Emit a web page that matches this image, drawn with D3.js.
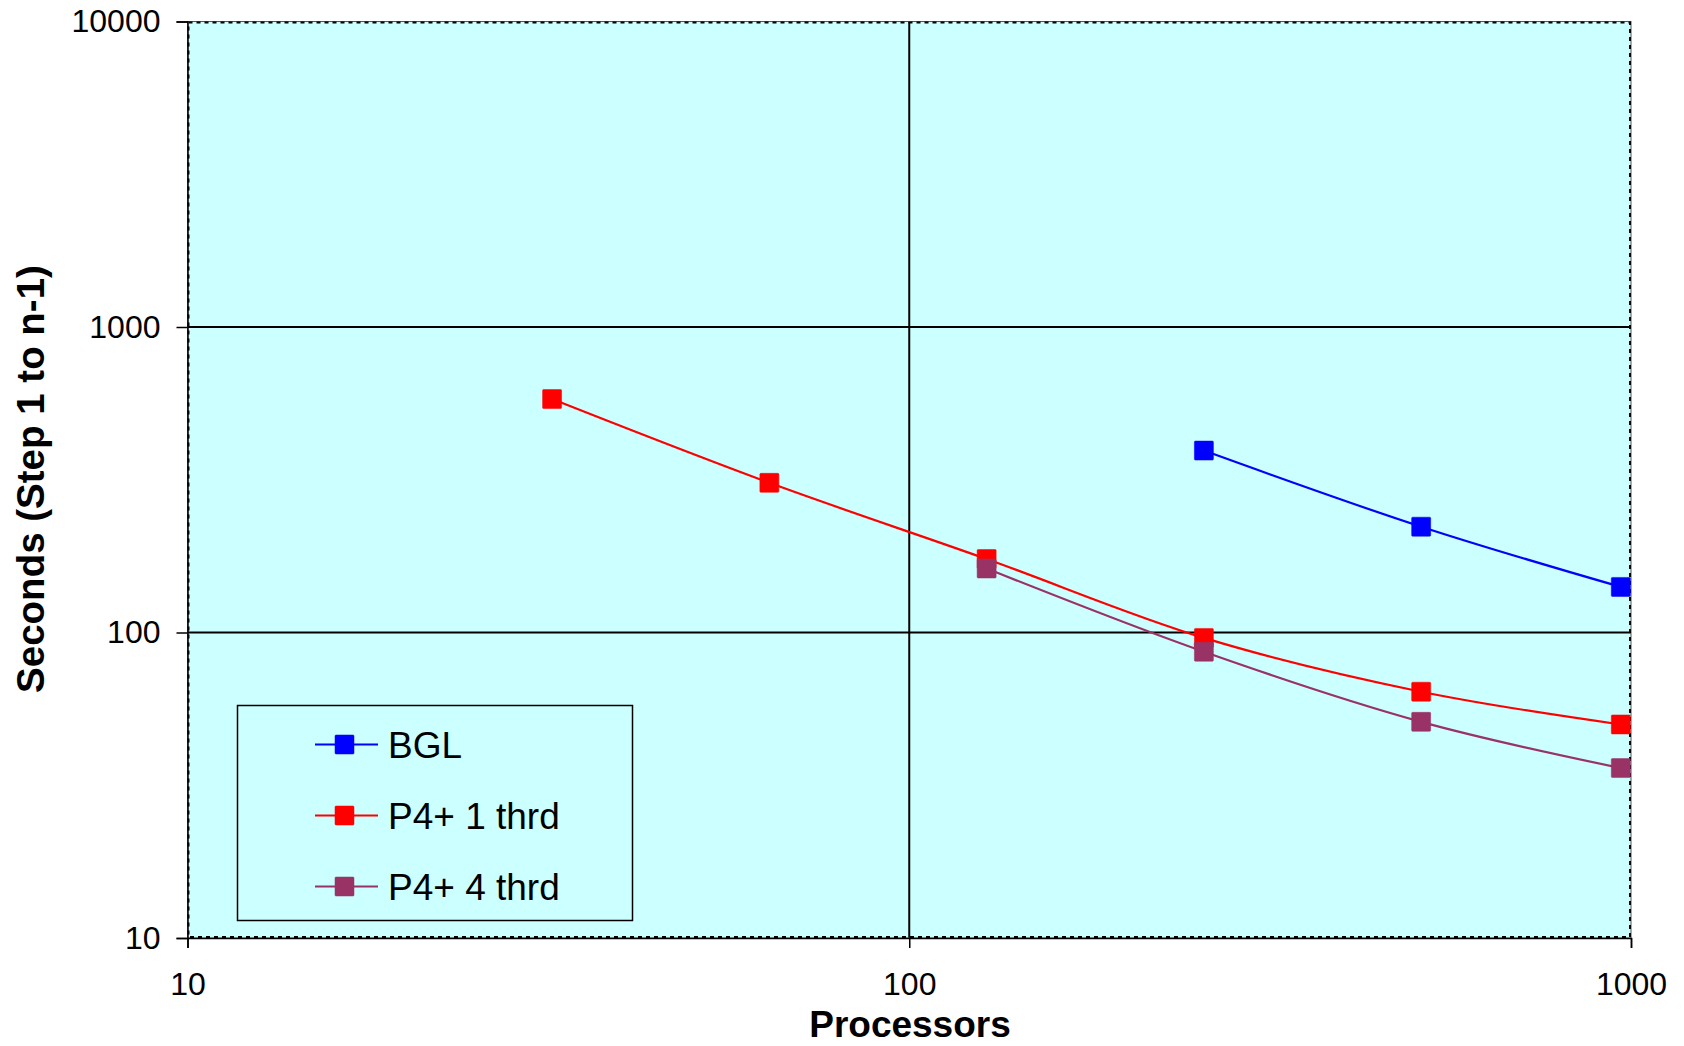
<!DOCTYPE html>
<html>
<head>
<meta charset="utf-8">
<script src="https://d3js.org/d3.v7.min.js"></script>
<style>
  body { margin: 0; background: white; }
  text { font-family: "Liberation Sans", Arial, sans-serif; fill: black; }
</style>
</head>
<body>
<svg id="chart" width="1684" height="1046"></svg>
<script>
// values
var seriesNames = ["BGL", "P4+ 1 thrd", "P4+ 4 thrd"];
var seriesColors = ["#0000ff", "#ff0000", "#993366"];
var bglProcs = [256, 512, 968];
var bglSecs = [394, 222, 141];
var p4oneProcs = [32, 64, 128, 256, 512, 968];
var p4oneSecs = [581, 309, 174, 96, 64, 50];
var p4fourProcs = [128, 256, 512, 968];
var p4fourSecs = [162, 86.5, 51, 36];
var xTicks = [10, 100, 1000];
var yTicks = [10, 100, 1000, 10000];

(function draw() {
  var series = [
    {name: seriesNames[0], color: seriesColors[0], pts: bglProcs.map(function(p, i) { return {x: p, y: bglSecs[i]}; })},
    {name: seriesNames[1], color: seriesColors[1], pts: p4oneProcs.map(function(p, i) { return {x: p, y: p4oneSecs[i]}; })},
    {name: seriesNames[2], color: seriesColors[2], pts: p4fourProcs.map(function(p, i) { return {x: p, y: p4fourSecs[i]}; })}
  ];

  // plot area edges
  var pL = 187.5, pR = 1631, pT = 21.5, pB = 938;
  var svg = d3.select("#chart");

  var xs = d3.scaleLog().domain([10, 1000]).range([pL, pR]);
  var ys = d3.scaleLog().domain([10, 10000]).range([pB, pT]);

  // plot background
  svg.append("rect")
    .attr("x", pL).attr("y", pT)
    .attr("width", pR - pL).attr("height", pB - pT)
    .attr("fill", "#ccffff");

  // gridlines
  svg.append("g").selectAll("line")
    .data([100, 1000])
    .enter().append("line")
    .attr("x1", pL).attr("x2", pR)
    .attr("y1", function(d) { return ys(d); }).attr("y2", function(d) { return ys(d); })
    .attr("stroke", "black").attr("stroke-width", 2);

  svg.append("g").selectAll("line")
    .data([100])
    .enter().append("line")
    .attr("y1", pT).attr("y2", pB)
    .attr("x1", function(d) { return xs(d); }).attr("x2", function(d) { return xs(d); })
    .attr("stroke", "black").attr("stroke-width", 2);

  // dashed plot border
  svg.append("rect")
    .attr("x", pL).attr("y", pT)
    .attr("width", pR - pL).attr("height", pB - pT)
    .attr("fill", "none").attr("stroke", "#555").attr("stroke-width", 1);
  svg.append("rect")
    .attr("x", pL + 1).attr("y", pT + 1)
    .attr("width", pR - pL - 2).attr("height", pB - pT - 2)
    .attr("fill", "none").attr("stroke", "black").attr("stroke-width", 2)
    .attr("stroke-dasharray", "4,4");

  // axes
  var yAxis = svg.append("g")
    .attr("transform", "translate(" + pL + ",0)")
    .call(d3.axisLeft(ys).tickValues(yTicks).tickFormat(d3.format("d")).tickSize(11).tickPadding(16));
  var xAxis = svg.append("g")
    .attr("transform", "translate(0," + pB + ")")
    .call(d3.axisBottom(xs).tickValues(xTicks).tickFormat(d3.format("d")).tickSize(10).tickPadding(24));

  [yAxis, xAxis].forEach(function(a) {
    a.select(".domain").attr("stroke", "black").attr("stroke-width", 1.5);
    a.selectAll(".tick line").attr("stroke", "black").attr("stroke-width", 1.5);
    a.selectAll(".tick text")
      .attr("font-family", "'Liberation Sans', Arial, sans-serif")
      .attr("font-size", "32px").attr("fill", "black");
  });

  // series lines + markers
  var line = d3.line()
    .x(function(d) { return xs(d.x); })
    .y(function(d) { return ys(d.y); })
    .curve(d3.curveCatmullRom.alpha(0.5));

  var ms = 19;
  series.forEach(function(s) {
    svg.append("path")
      .datum(s.pts)
      .attr("d", line)
      .attr("fill", "none")
      .attr("stroke", s.color)
      .attr("stroke-width", 2.2);
    svg.append("g").selectAll("rect")
      .data(s.pts)
      .enter().append("rect")
      .attr("x", function(d) { return xs(d.x) - ms / 2; })
      .attr("y", function(d) { return ys(d.y) - ms / 2; })
      .attr("width", ms).attr("height", ms)
      .attr("rx", 1)
      .attr("fill", s.color)
      .attr("stroke", s.color).attr("stroke-opacity", 0.5).attr("stroke-width", 1);
  });

  // legend
  var legend = svg.append("g");
  legend.append("rect")
    .attr("x", 237.5).attr("y", 705.5)
    .attr("width", 395).attr("height", 215)
    .attr("fill", "#ccffff")
    .attr("stroke", "black").attr("stroke-width", 1.5);

  var entryY = [744.5, 815.5, 886.5];
  series.forEach(function(s, i) {
    var g = legend.append("g").attr("transform", "translate(0," + entryY[i] + ")");
    g.append("line")
      .attr("x1", 315).attr("x2", 378)
      .attr("y1", 0).attr("y2", 0)
      .attr("stroke", s.color).attr("stroke-width", 2.2);
    g.append("rect")
      .attr("x", 344.5 - ms / 2).attr("y", -ms / 2)
      .attr("width", ms).attr("height", ms).attr("rx", 1)
      .attr("fill", s.color)
      .attr("stroke", s.color).attr("stroke-opacity", 0.5);
    g.append("text")
      .attr("x", 388).attr("y", 13)
      .attr("font-size", "37px")
      .text(s.name);
  });

  // axis titles
  svg.append("text")
    .attr("x", 910).attr("y", 1037)
    .attr("text-anchor", "middle")
    .attr("font-size", "37px").attr("font-weight", "bold")
    .text("Processors");

  svg.append("text")
    .attr("transform", "translate(44,479) rotate(-90)")
    .attr("text-anchor", "middle")
    .attr("font-size", "38.5px").attr("font-weight", "bold")
    .text("Seconds (Step 1 to n-1)");
})();
</script>
</body>
</html>
